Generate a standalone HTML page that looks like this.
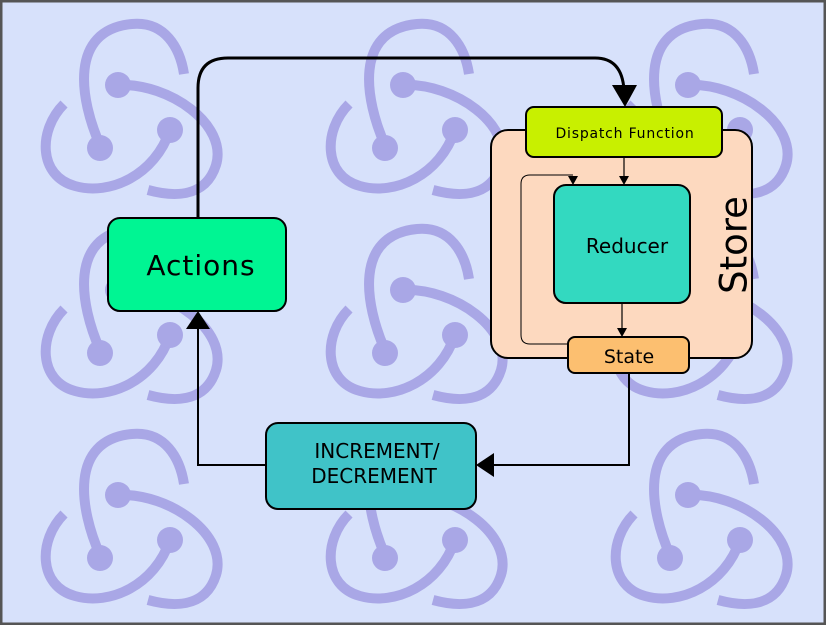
<!DOCTYPE html>
<html><head><meta charset="utf-8"><style>
html,body{margin:0;padding:0;width:826px;height:625px;overflow:hidden;background:#fff}
</style></head><body>
<svg width="826" height="625" viewBox="0 0 826 625" xmlns="http://www.w3.org/2000/svg" font-family="'DejaVu Sans','Liberation Sans',sans-serif">
<defs>
<g id="logo" fill="none" stroke="#a9a7e6" stroke-width="10" stroke-linecap="butt">
<path d="M100,145 C80,100 68,30 132,24 C165,21 180,48 184,74"/>
<path d="M118,85 C170,83 228,125 216,165 C205,200 170,196 148,190"/>
<path d="M170,130 C155,175 110,196 75,186 C38,176 38,130 64,104"/>
<circle cx="118" cy="85" r="13" fill="#a9a7e6" stroke="none"/>
<circle cx="170" cy="130" r="13" fill="#a9a7e6" stroke="none"/>
<circle cx="100" cy="148" r="13" fill="#a9a7e6" stroke="none"/>
</g>
</defs>
<rect x="1" y="1" width="824" height="623" fill="#d7e1fb" stroke="#555" stroke-width="3"/>
<use href="#logo"/>
<use href="#logo" x="285"/>
<use href="#logo" x="570"/>
<use href="#logo" y="205"/>
<use href="#logo" x="285" y="205"/>
<use href="#logo" x="570" y="205"/>
<use href="#logo" y="410"/>
<use href="#logo" x="285" y="410"/>
<use href="#logo" x="570" y="410"/>

<path d="M198,218 L198,88 Q198,58 228,58 L595,58 Q622,58 624,90" fill="none" stroke="#000" stroke-width="3"/>
<path d="M612,85 L637,85 L625,107 z" fill="#000"/>
<path d="M629,373 L629,465 L490,465" fill="none" stroke="#000" stroke-width="2"/>
<path d="M494,453 L476,465 L494,477 z" fill="#000"/>
<path d="M266,465 L198,465 L198,325" fill="none" stroke="#000" stroke-width="2"/>
<path d="M186,329 L198,311 L210,329 z" fill="#000"/>

<rect x="491" y="130" width="261" height="228" rx="17" fill="#fdd9bf" stroke="#000" stroke-width="2"/>
<text x="736" y="245" font-size="37" text-anchor="middle" transform="rotate(-90 736 245)" dominant-baseline="middle" fill="#000">Store</text>
<path d="M568,344 L530,344 Q521,344 521,335 L521,184 Q521,175 530,175 L573,175" fill="none" stroke="#000" stroke-width="1"/>
<path d="M568,176 L578,176 L573,185 z" fill="#000"/>
<path d="M624,157 L624,178" stroke="#000" stroke-width="1.2"/>
<path d="M619,176 L629,176 L624,185 z" fill="#000"/>
<path d="M622,303 L622,330" stroke="#000" stroke-width="1.2"/>
<path d="M617,328 L627,328 L622,337 z" fill="#000"/>

<rect x="526" y="107" width="196" height="50" rx="8" fill="#c8f000" stroke="#000" stroke-width="2"/>
<text x="625" y="138" font-size="14" text-anchor="middle" letter-spacing="0.8">Dispatch Function</text>
<rect x="554" y="185" width="136" height="118" rx="12" fill="#33d9c0" stroke="#000" stroke-width="2"/>
<text x="627" y="253" font-size="20" text-anchor="middle">Reducer</text>
<rect x="568" y="337" width="121" height="36" rx="7" fill="#fcbf70" stroke="#000" stroke-width="2"/>
<text x="629" y="363" font-size="19" text-anchor="middle">State</text>

<rect x="108" y="218" width="178" height="93" rx="12" fill="#00f593" stroke="#000" stroke-width="2"/>
<text x="201" y="275" font-size="28" text-anchor="middle" letter-spacing="1">Actions</text>
<rect x="266" y="423" width="210" height="86" rx="12" fill="#40c3c8" stroke="#000" stroke-width="2"/>
<text x="377" y="458" font-size="20" text-anchor="middle">INCREMENT/</text>
<text x="374" y="483" font-size="20" text-anchor="middle">DECREMENT</text>
</svg>
</body></html>
